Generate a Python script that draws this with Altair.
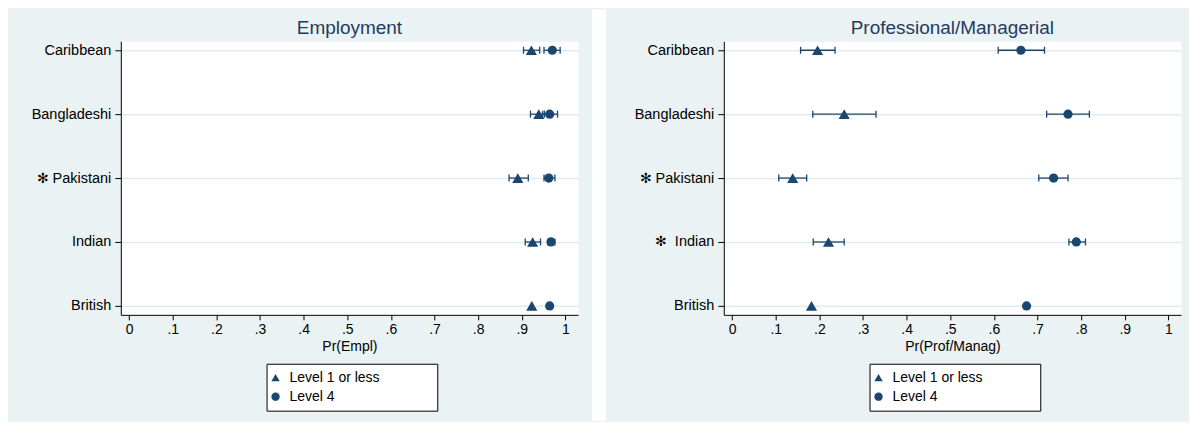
import altair as alt
import pandas as pd

NAVY = "#1a476f"
BG = "#eaf2f3"
FONT = "Liberation Sans"
NB = "\u00a0"
PADCH = "\u2800"

levels = ["Level 1 or less", "Level 4"]
shapes = ["triangle-up", "circle"]
marker_sizes = [125, 85]

# Employment panel
empl_labels = ["Caribbean", "Bangladeshi", "\u273b Pakistani", "Indian", "British"]
empl_low = [0.922, 0.939, 0.891, 0.925, 0.923]
empl_low_lo = [0.904, 0.920, 0.871, 0.908, None]
empl_low_hi = [0.941, 0.952, 0.915, 0.943, None]
empl_l4 = [0.970, 0.964, 0.962, 0.967, 0.964]
empl_l4_lo = [0.951, 0.948, 0.951, 0.960, None]
empl_l4_hi = [0.988, 0.982, 0.976, 0.976, None]

# Professional/Managerial panel
prof_labels = ["Caribbean", "Bangladeshi", "\u273b Pakistani", "\u273b" + NB + NB + "Indian", "British"]
prof_low = [0.196, 0.257, 0.139, 0.221, 0.182]
prof_low_lo = [0.157, 0.185, 0.107, 0.186, None]
prof_low_hi = [0.236, 0.330, 0.171, 0.257, None]
prof_l4 = [0.662, 0.770, 0.737, 0.789, 0.675]
prof_l4_lo = [0.610, 0.721, 0.703, 0.772, None]
prof_l4_hi = [0.716, 0.819, 0.770, 0.810, None]

x_ticks = [round(i / 10, 1) for i in range(11)]

W = 458
H = 274


def panel(labels, e1, lo1, hi1, e2, lo2, hi2, title, xtitle, left):
    rows = []
    for i, lab in enumerate(labels):
        rows.append(dict(group=lab, level=levels[0], est=e1[i], lo=lo1[i], hi=hi1[i]))
        rows.append(dict(group=lab, level=levels[1], est=e2[i], lo=lo2[i], hi=hi2[i]))
    df = pd.DataFrame(rows)
    ci = df.dropna(subset=["lo"])

    xs = alt.Scale(domain=[-0.019, 1.029], nice=False, zero=False)
    ys = alt.Scale(type="point", domain=labels, padding=0.14)
    xax = alt.Axis(
        values=x_ticks,
        labelExpr="datum.value == 0 ? '0' : datum.value == 1 ? '1' : '.' + format(datum.value * 10, 'd')",
        title=xtitle, grid=False, tickSize=5, labelPadding=3, titlePadding=3,
        labelFontSize=14, titleFontSize=14, titleFontWeight="normal",
        labelColor="black", titleColor="black", tickColor="black", domainColor="black",
        labelFont=FONT, titleFont=FONT,
    )
    yax = alt.Axis(
        title=None, grid=True, gridColor="#e1ebee", gridWidth=1.5,
        tickSize=6, labelPadding=4, labelFontSize=14.5, labelColor="black",
        tickColor="black", domainColor="black", labelFont=FONT,
    )
    X = lambda f: alt.X(f, scale=xs, axis=xax)
    Y = alt.Y("group:N", scale=ys, axis=yax, sort=labels)

    legend = alt.Legend(
        title=None, orient="none", legendX=146, legendY=323, direction="vertical",
        strokeColor="black", fillColor="white", padding=7, labelFontSize=14,
        labelFont=FONT, labelColor="black", symbolSize=70, symbolFillColor=NAVY,
        symbolStrokeColor=NAVY, symbolStrokeWidth=0, rowPadding=5, labelOffset=7,
        symbolOffset=-5, labelLimit=400,
        labelExpr="datum.label + '" + PADCH * 5 + "'",
    )
    S = alt.Shape("level:N", scale=alt.Scale(domain=levels, range=shapes), legend=legend)

    one = pd.DataFrame({"t": [title]})
    layers = []
    if left:
        layers.append(
            alt.Chart(one).mark_rect(color=BG).encode(
                x=alt.value(-112), x2=alt.value(-111), y=alt.value(-32), y2=alt.value(H + 106)
            )
        )
        layers.append(
            alt.Chart(one).mark_rect(color="white").encode(
                x=alt.value(W + 14), x2=alt.value(W + 28), y=alt.value(-32), y2=alt.value(H + 106)
            )
        )
    layers.append(
        alt.Chart(one).mark_text(
            fontSize=19, font=FONT, color="#1e3b62", align="center", baseline="alphabetic"
        ).encode(text="t:N", x=alt.value(W / 2), y=alt.value(-7))
    )
    layers.append(
        alt.Chart(ci).mark_rule(color=NAVY, strokeWidth=1.3).encode(x=X("lo:Q"), x2="hi:Q", y=Y)
    )
    layers.append(
        alt.Chart(ci).mark_tick(color=NAVY, thickness=1.3, size=7, orient="vertical", opacity=1).encode(
            x=X("lo:Q"), y=Y
        )
    )
    layers.append(
        alt.Chart(ci).mark_tick(color=NAVY, thickness=1.3, size=7, orient="vertical", opacity=1).encode(
            x=X("hi:Q"), y=Y
        )
    )
    for lev, sz in zip(levels, marker_sizes):
        layers.append(
            alt.Chart(df[df["level"] == lev]).mark_point(filled=True, color=NAVY, opacity=1, size=sz).encode(
                x=X("est:Q"), y=Y, shape=S
            )
        )
    return alt.layer(*layers).properties(width=W, height=H)


left = panel(empl_labels, empl_low, empl_low_lo, empl_low_hi, empl_l4, empl_l4_lo, empl_l4_hi,
             "Employment", "Pr(Empl)", True)
right = panel(prof_labels, prof_low, prof_low_lo, prof_low_hi, prof_l4, prof_l4_lo, prof_l4_hi,
              "Professional/Managerial", "Pr(Prof/Manag)", False)

chart = (
    alt.hconcat(left, right, spacing=146, bounds="flush")
    .resolve_scale(shape="independent", x="independent", y="independent")
    .resolve_legend(shape="independent")
    .properties(padding={"left": 0, "top": 0, "right": 7, "bottom": 0})
    .configure(background=BG, font=FONT)
    .configure_view(fill="white", stroke="transparent")
)

chart.save("out.html", embed_options={"renderer": "svg", "actions": False})
